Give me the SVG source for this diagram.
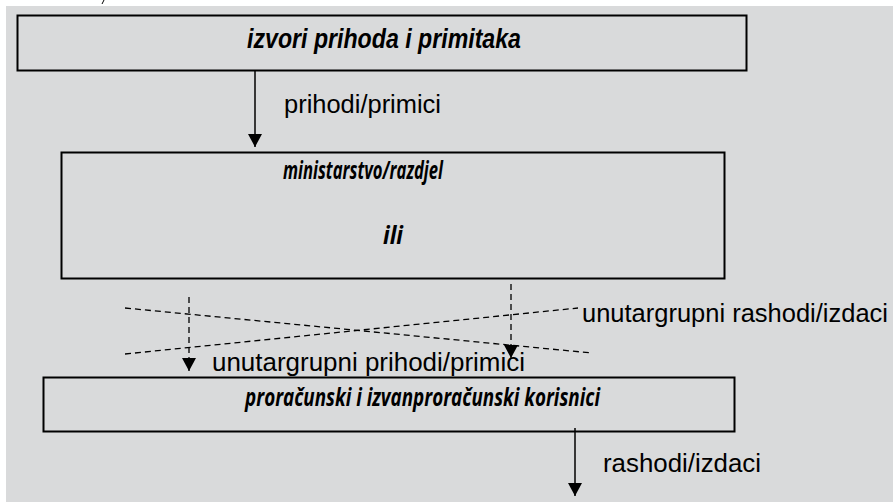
<svg xmlns="http://www.w3.org/2000/svg" width="893" height="502" viewBox="0 0 893 502">
  <style>
    .box { fill: none; stroke: #000; stroke-width: 2; }
    .title { font-family: "Liberation Sans Narrow", "Liberation Sans", Arial, sans-serif; font-weight: bold; font-style: italic; fill: #000; }
    .cal { font-family: "Open Sans", "Noto Sans", sans-serif; font-weight: bold; font-style: italic; fill: #000; }
    .lbl { font-family: "Liberation Sans Narrow", "Liberation Sans", Arial, sans-serif; fill: #000; }
    .solid { stroke: #000; stroke-width: 1.5; fill: none; }
    .dash { stroke: #000; stroke-width: 1.3; fill: none; stroke-dasharray: 6 4; }
  </style>
  <defs>
    <marker id="ah" markerWidth="13" markerHeight="14" refX="13" refY="7" orient="auto" markerUnits="userSpaceOnUse">
      <path d="M0,0 L13,7 L0,14 Z" fill="#000"/>
    </marker>
  </defs>
  <rect x="0" y="0" width="893" height="502" fill="#ffffff"/>
  <rect x="6" y="6" width="887" height="496" fill="#d9dadb"/>
  <path d="M104,0 L102,4" stroke="#000" stroke-width="1"/>

  <g id="node-izvori">
    <rect class="box" x="17.5" y="15.5" width="729" height="55"/>
    <text class="title" x="247" y="48" font-size="27" textLength="274" lengthAdjust="spacingAndGlyphs">izvori prihoda i primitaka</text>
  </g>

  <g id="node-ministarstvo">
    <rect class="box" x="61.5" y="152.5" width="663" height="126"/>
    <text class="cal" x="283" y="179" font-size="25" textLength="160" lengthAdjust="spacingAndGlyphs">ministarstvo/razdjel</text>
    <text class="cal" x="383" y="244" font-size="25" textLength="20" lengthAdjust="spacingAndGlyphs">ili</text>
  </g>

  <g id="node-korisnici">
    <rect class="box" x="43.5" y="377.5" width="691" height="54"/>
    <text class="cal" x="245" y="406" font-size="25" textLength="355" lengthAdjust="spacingAndGlyphs">proračunski i izvanproračunski korisnici</text>
  </g>

  <g id="connectors">
    <line class="solid" x1="255" y1="71" x2="255" y2="147" marker-end="url(#ah)"/>
    <text class="lbl" x="284" y="113" font-size="26" textLength="157" lengthAdjust="spacingAndGlyphs">prihodi/primici</text>

    <line class="dash" x1="125" y1="308" x2="592" y2="353"/>
    <line class="dash" x1="125" y1="354" x2="578" y2="308"/>
    <line class="dash" x1="189" y1="297" x2="189" y2="371" marker-end="url(#ah)"/>
    <line class="dash" x1="511" y1="284" x2="511" y2="358" marker-end="url(#ah)"/>
    <text class="lbl" x="582" y="322" font-size="25.5" textLength="306" lengthAdjust="spacingAndGlyphs">unutargrupni rashodi/izdaci</text>
    <text class="lbl" x="212" y="371" font-size="26" textLength="313" lengthAdjust="spacingAndGlyphs">unutargrupni prihodi/primici</text>

    <line class="solid" x1="575" y1="428" x2="575" y2="496" marker-end="url(#ah)"/>
    <text class="lbl" x="603" y="472" font-size="26" textLength="158" lengthAdjust="spacingAndGlyphs">rashodi/izdaci</text>
  </g>
</svg>
